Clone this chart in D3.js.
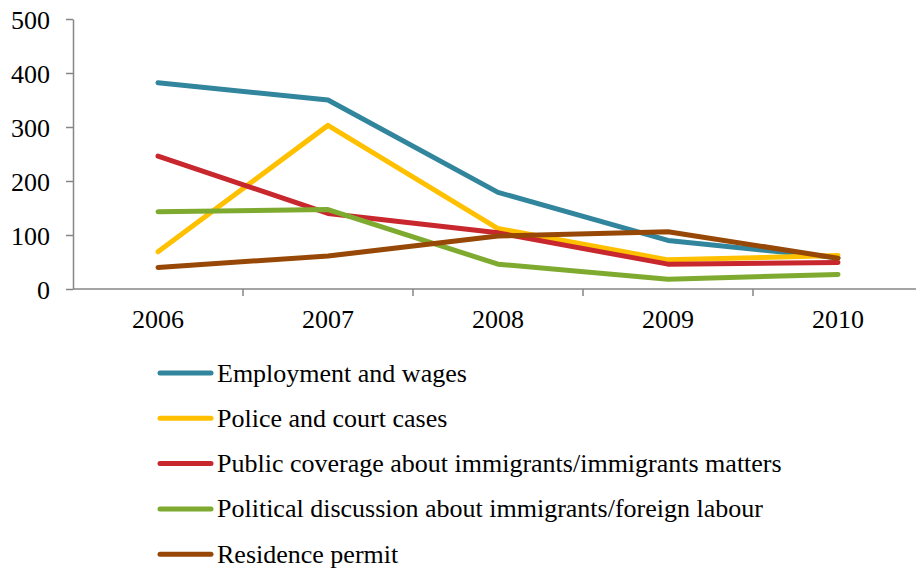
<!DOCTYPE html>
<html>
<head>
<meta charset="utf-8">
<script src="https://cdn.jsdelivr.net/npm/d3@7"></script>
<style>
  html, body { margin: 0; padding: 0; background: #fff; }
  svg { display: block; font-family: "Liberation Serif", serif; }
  svg text { font-family: "Liberation Serif", serif !important; }
</style>
</head>
<body>
<svg id="chart" width="916" height="569" font-family="Liberation Serif"></svg>
<script>
const years = ["2006", "2007", "2008", "2009", "2010"];
const yTicks = [0, 100, 200, 300, 400, 500];
const seriesNames = [
  "Employment and wages",
  "Police and court cases",
  "Public coverage about immigrants/immigrants matters",
  "Political discussion about immigrants/foreign labour",
  "Residence permit"
];
const seriesColors = ["#31859C", "#FFC000", "#C8282D", "#7FAA30", "#974806"];
const employment = [382, 350, 179, 90, 58];
const police = [69, 303, 112, 54, 62];
const publicCoverage = [246, 140, 104, 46, 49];
const political = [143, 147, 46, 18, 27];
const residence = [40, 61, 98, 106, 57];
const seriesValues = [employment, police, publicCoverage, political, residence];

(function () {
const FONT = '"Liberation Serif", serif';
const svg = d3.select("#chart");
const mLeft = 73, mTop = 19, mBottom = 289;
const bandW = 170;

const x = d3.scaleBand().domain(years).range([mLeft, mLeft + bandW * years.length]).padding(0);
const y = d3.scaleLinear().domain([0, 500]).range([mBottom, mTop]);

const axisColor = "#868686";

// Y axis
const yAxis = svg.append("g").attr("transform", `translate(${mLeft},0)`)
  .call(d3.axisLeft(y).tickValues(yTicks).tickSize(7).tickSizeOuter(0).tickPadding(16));
yAxis.attr("font-family", FONT).attr("font-size", 26);
yAxis.select(".domain").attr("stroke", axisColor).attr("stroke-width", 1.5);
yAxis.selectAll(".tick line").attr("stroke", axisColor).attr("stroke-width", 1.5);
yAxis.selectAll(".tick text").attr("font-family", FONT).style("font-family", FONT).style("font-size", "26px").attr("dy", "0.35em").attr("fill", "#000");

// X axis
const xAxisG = svg.append("g").attr("transform", `translate(0,${mBottom})`);
xAxisG.append("line").attr("x1", mLeft).attr("x2", 916).attr("y1", 0).attr("y2", 0)
  .attr("stroke", axisColor).attr("stroke-width", 1.5);
const boundaries = d3.range(1, years.length + 1).map(i => mLeft + bandW * i);
xAxisG.selectAll("line.tk").data(boundaries).enter().append("line")
  .attr("class", "tk").attr("x1", d => d).attr("x2", d => d).attr("y1", 0).attr("y2", 7)
  .attr("stroke", axisColor).attr("stroke-width", 1.5);
xAxisG.selectAll("text.lbl").data(years).enter().append("text")
  .attr("class", "lbl")
  .attr("x", d => x(d) + x.bandwidth() / 2)
  .attr("y", 39)
  .attr("text-anchor", "middle")
  .attr("font-family", FONT)
  .style("font-family", FONT)
  .style("font-size", "26px")
  .attr("fill", "#000")
  .text(d => d);

// Lines
const line = d3.line()
  .x((d, i) => x(years[i]) + x.bandwidth() / 2)
  .y(d => y(d));

svg.append("g").selectAll("path").data(seriesValues).enter().append("path")
  .attr("d", d => line(d))
  .attr("fill", "none")
  .attr("stroke", (d, i) => seriesColors[i])
  .attr("stroke-width", 5)
  .attr("stroke-linejoin", "round")
  .attr("stroke-linecap", "round");

// Legend
const legendY0 = 373, legendStep = 45.3;
const lg = svg.append("g").selectAll("g").data(seriesNames).enter().append("g")
  .attr("transform", (d, i) => `translate(0,${legendY0 + i * legendStep})`);
lg.append("line").attr("x1", 160).attr("x2", 211).attr("y1", 0).attr("y2", 0)
  .attr("stroke", (d, i) => seriesColors[i]).attr("stroke-width", 5).attr("stroke-linecap", "round");
lg.append("text").attr("x", 217).attr("y", 0).attr("dy", "0.33em")
  .attr("font-family", FONT)
  .style("font-family", FONT)
  .style("font-size", "26px").attr("fill", "#000").text(d => d);
})();
</script>
</body>
</html>
